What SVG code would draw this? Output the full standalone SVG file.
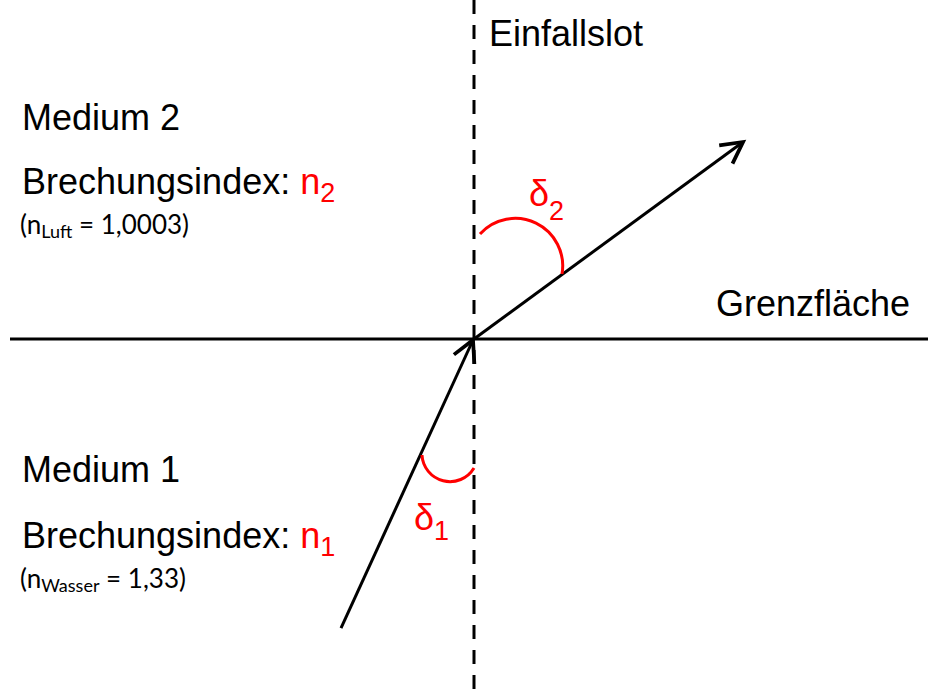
<svg xmlns="http://www.w3.org/2000/svg" width="928" height="698" viewBox="0 0 928 698">
<style>
.lbl{font-family:"Liberation Sans",Arial,sans-serif;font-size:36px;fill:#000}
.red{fill:#FF0000}
.sub{font-size:27px}
.small{font-family:Lato,"Open Sans",sans-serif;font-size:26px;fill:#000}
.ln{stroke:#000;stroke-width:3;fill:none}
.arc{stroke:#FF0000;stroke-width:3;fill:none}
</style>
<defs>
<marker id="ah" markerUnits="userSpaceOnUse" markerWidth="30" markerHeight="30" viewBox="-20 -12 24 24" refX="0" refY="0" orient="auto">
<path d="M-17,-9 L0,0 L-17,9" fill="none" stroke="#000" stroke-width="3"/>
</marker>
</defs>
<rect width="928" height="698" fill="#fff"/>
<g id="connectors">
<line id="lot" class="ln" x1="474" y1="0" x2="474" y2="698" stroke-dasharray="14 11"/>
<line id="grenz" class="ln" x1="10" y1="339" x2="928" y2="339"/>
<line id="incident" class="ln" x1="341" y1="628" x2="473" y2="340" marker-end="url(#ah)"/>
<line id="refracted" class="ln" x1="474" y1="339" x2="743" y2="142" marker-end="url(#ah)"/>
</g>
<g id="angle2">
<path class="arc" d="M480,234 A47.5,47.5 0 0 1 562,274"/>
<text class="lbl red" x="529" y="206" font-size="38">δ<tspan class="sub" dy="14">2</tspan></text>
</g>
<g id="angle1">
<path class="arc" d="M422,455 A28,28 0 0 0 474,468"/>
<text class="lbl red" x="414" y="530" font-size="38">δ<tspan class="sub" dy="10">1</tspan></text>
</g>
<g id="einfallslot"><text class="lbl" x="489" y="46">Einfallslot</text></g>
<g id="grenzflaeche"><text class="lbl" x="716" y="316">Grenzfläche</text></g>
<g id="medium2">
<text class="lbl" x="22" y="130">Medium 2</text>
<text class="lbl" x="22" y="194">Brechungsindex: <tspan class="red">n<tspan class="sub" dy="8">2</tspan></tspan></text>
<text class="small" x="20" y="234">(n<tspan font-size="18" dy="4">Luft</tspan><tspan dy="-4"> = 1,0003)</tspan></text>
</g>
<g id="medium1">
<text class="lbl" x="22" y="482">Medium 1</text>
<text class="lbl" x="22" y="548">Brechungsindex: <tspan class="red">n<tspan class="sub" dy="8">1</tspan></tspan></text>
<text class="small" x="20" y="588">(n<tspan font-size="18" dy="4">Wasser</tspan><tspan dy="-4"> = 1,33)</tspan></text>
</g>
</svg>
